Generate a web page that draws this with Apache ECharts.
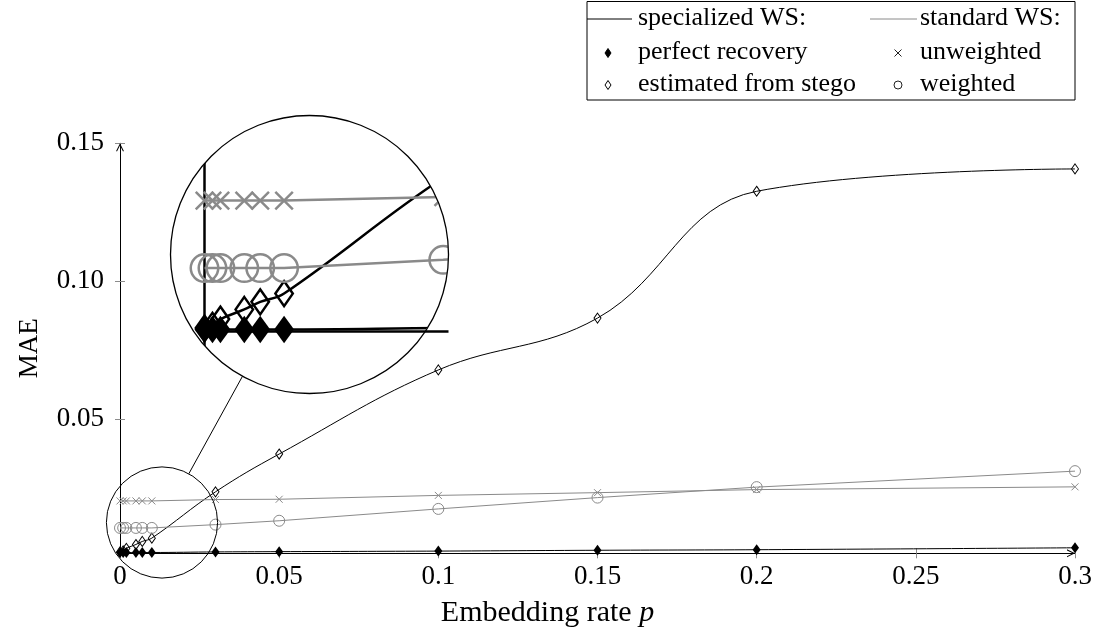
<!DOCTYPE html>
<html>
<head>
<meta charset="utf-8">
<title>MAE vs embedding rate</title>
<script src="https://cdn.jsdelivr.net/npm/echarts@6/dist/echarts.min.js"></script>
<style>
  html, body { margin: 0; padding: 0; background: #fff; }
  #chart { width: 1100px; height: 640px; }
</style>
</head>
<body>
<div id="chart"></div>
<script>
// Embedding rates p
const P = [0, 0.001, 0.002, 0.005, 0.007, 0.01, 0.03, 0.05, 0.1, 0.15, 0.2, 0.3];
// specialized WS
const PERFECT   = [0.0016, 0.0016, 0.0016, 0.0016, 0.0016, 0.0016, 0.0018, 0.0019, 0.0021, 0.0024, 0.0026, 0.0033];
const ESTIMATED = [0.0018, 0.0022, 0.0031, 0.0045, 0.0056, 0.0068, 0.0236, 0.0373, 0.0678, 0.0866, 0.1326, 0.1407];
// standard WS
const UNWEIGHTED = [0.0203, 0.0203, 0.0203, 0.0203, 0.0203, 0.0203, 0.0208, 0.0209, 0.0223, 0.0233, 0.0244, 0.0254];
const WEIGHTED   = [0.0105, 0.0105, 0.0105, 0.0105, 0.0105, 0.0105, 0.0117, 0.0131, 0.0174, 0.0215, 0.0253, 0.0311];
// axis ticks
const Y_TICKS = [0.05, 0.10, 0.15];
const X_INTERVAL = 0.05;

const X_MIN = 0, X_MAX = 0.3, Y_MIN = 0.0013, Y_MAX = 0.15;

const FONT = "'Liberation Serif', 'DejaVu Serif', serif";
const FS = 26;
const GRAY = '#8a8a8a';
const TICK = '#8c8c8c';
const CROSS = 'path://M0,0L10,10M10,0L0,10';
const ARROW = 'path://M5,0 L10,10 L8.6,10 L5,2.8 L1.4,10 L0,10 Z';

// plot area in pixels
const PLOT = { left: 120, right: 1075, top: 143.3, bottom: 553.3 };
const sx = (PLOT.right - PLOT.left) / (X_MAX - X_MIN);
const sy = (PLOT.bottom - PLOT.top) / (Y_MAX - Y_MIN);

// magnifier: small source circle near the origin, enlarged copy above
const SRC = { x: 162, y: 522.5, r: 55.6 };
const MAG = 2.5;
const DST = { x: 309.5, y: 254.5 };
const R = SRC.r * MAG;
const cxData = X_MIN + (SRC.x - PLOT.left) / sx;
const cyData = Y_MIN + (PLOT.bottom - SRC.y) / sy;
const hx = SRC.r / sx, hy = SRC.r / sy;
const IN_X_MIN = cxData - hx, IN_X_MAX = cxData + hx;
const IN_Y_MIN = cyData - hy, IN_Y_MAX = cyData + hy;

const zip = (xs, ys) => xs.map((x, i) => [x, ys[i]]);

function seriesSet(xi, yi, k, z) {
  const common = { type: 'line', xAxisIndex: xi, yAxisIndex: yi, z: z, silent: true,
                   showAllSymbol: true, clip: true, emphasis: { disabled: true } };
  return [
    Object.assign({}, common, {
      name: 'perfect recovery', data: zip(P, PERFECT), smooth: 0.4,
      symbol: 'diamond', symbolSize: [8 * k, 11 * k],
      itemStyle: { color: '#000', borderWidth: 0 },
      lineStyle: { color: '#000', width: 1 * k }
    }),
    Object.assign({}, common, {
      name: 'estimated from stego', data: zip(P, ESTIMATED), smooth: 0.4,
      symbol: 'diamond', symbolSize: [7 * k, 10 * k],
      itemStyle: { color: 'rgba(0,0,0,0)', borderColor: '#000', borderWidth: 1 * k },
      lineStyle: { color: '#000', width: 1 * k }
    }),
    Object.assign({}, common, {
      name: 'unweighted', data: zip(P, UNWEIGHTED),
      symbol: CROSS, symbolSize: 7 * k,
      itemStyle: { color: 'rgba(0,0,0,0)', borderColor: GRAY, borderWidth: 1 * k },
      lineStyle: { color: GRAY, width: 1 * k }
    }),
    Object.assign({}, common, {
      name: 'weighted', data: zip(P, WEIGHTED),
      symbol: 'circle', symbolSize: 11 * k,
      itemStyle: { color: 'rgba(0,0,0,0)', borderColor: GRAY, borderWidth: 1 * k },
      lineStyle: { color: GRAY, width: 1 * k }
    })
  ];
}

const mainSeries = seriesSet(0, 0, 1, 10);
const insetSeries = seriesSet(2, 2, MAG, 2);
// x axis line seen through the magnifier
insetSeries[0].markLine = {
  silent: true, symbol: ['none', 'none'], label: { show: false },
  lineStyle: { color: '#000', width: MAG, type: 'solid' },
  data: [[{ coord: [0, Y_MIN] }, { coord: [IN_X_MAX, Y_MIN] }]]
};

// white cover around the round magnifier: a square with a round hole,
// traced as one outline with a zero-width slit
const M = 40;
const qx0 = DST.x - R - M, qx1 = DST.x + R + M, qy0 = DST.y - R - M, qy1 = DST.y + R + M;
const maskPts = [[qx0, qy0], [qx1, qy0], [qx1, qy1], [qx0, qy1], [qx0, DST.y]];
const NSEG = 240;
for (let i = 0; i <= NSEG; i++) {
  const t = Math.PI - (2 * Math.PI * i) / NSEG;
  maskPts.push([DST.x + R * Math.cos(t), DST.y + R * Math.sin(t)]);
}
maskPts.push([qx0, DST.y]);

// connector between the two circles
const dl = Math.hypot(DST.x - SRC.x, DST.y - SRC.y);
const ux = (DST.x - SRC.x) / dl, uy = (DST.y - SRC.y) / dl;

// legend box
const LG = { x0: 587, x1: 1075, y0: 1.5, y1: 100, rows: [19, 53, 85], sym1: 608, txt1: 638, sym2: 898, txt2: 920 };
const txt = (s, x, y) => ({
  type: 'text', z: 30, silent: true,
  style: { text: s, x: x, y: y, fill: '#000', font: `${FS}px ${FONT}`,
           textVerticalAlign: 'middle', verticalAlign: 'middle', textAlign: 'left', align: 'left' }
});
const diamond = (cx, cy, w, h, filled) => ({
  type: 'polygon', z: 30, silent: true,
  shape: { points: [[cx, cy - h / 2], [cx + w / 2, cy], [cx, cy + h / 2], [cx - w / 2, cy]] },
  style: { fill: filled ? '#000' : 'none', stroke: '#000', lineWidth: 1 }
});
const seg = (x1, y1, x2, y2, color, w) => ({
  type: 'line', z: 30, silent: true,
  shape: { x1: x1, y1: y1, x2: x2, y2: y2 },
  style: { stroke: color, lineWidth: w }
});

const legendEls = [
  { type: 'rect', z: 29, silent: true,
    shape: { x: LG.x0, y: LG.y0, width: LG.x1 - LG.x0, height: LG.y1 - LG.y0 },
    style: { fill: '#fff', stroke: '#000', lineWidth: 1 } },
  seg(LG.x0, LG.rows[0], 632, LG.rows[0], '#000', 1),
  txt('specialized WS:', LG.txt1, LG.rows[0] - 1),
  seg(870, LG.rows[0], 917, LG.rows[0], GRAY, 1),
  txt('standard WS:', LG.txt2, LG.rows[0] - 1),
  diamond(LG.sym1, LG.rows[1], 6, 9, true),
  txt('perfect recovery', LG.txt1, LG.rows[1] - 1),
  seg(LG.sym2 - 3.5, LG.rows[1] - 3.5, LG.sym2 + 3.5, LG.rows[1] + 3.5, '#222', 1),
  seg(LG.sym2 - 3.5, LG.rows[1] + 3.5, LG.sym2 + 3.5, LG.rows[1] - 3.5, '#222', 1),
  txt('unweighted', LG.txt2, LG.rows[1] - 1),
  diamond(LG.sym1, LG.rows[2], 6, 9, false),
  txt('estimated from stego', LG.txt1, LG.rows[2] - 1),
  { type: 'circle', z: 30, silent: true, shape: { cx: LG.sym2, cy: LG.rows[2], r: 4 },
    style: { fill: 'none', stroke: '#222', lineWidth: 1 } },
  txt('weighted', LG.txt2, LG.rows[2] - 1)
];

const chart = echarts.init(document.getElementById('chart'), null, { renderer: 'canvas' });

const labelStyle = { fontFamily: FONT, fontSize: 27, color: '#000' };

chart.setOption({
  animation: false,
  backgroundColor: '#fff',
  grid: [
    { left: PLOT.left, top: PLOT.top, width: PLOT.right - PLOT.left, height: PLOT.bottom - PLOT.top,
      containLabel: false },
    { left: DST.x - R, top: DST.y - R, width: 2 * R, height: 2 * R,
      containLabel: false }
  ],
  xAxis: [
    { type: 'value', gridIndex: 0, min: X_MIN, max: X_MAX, interval: X_INTERVAL, position: 'bottom',
      name: 'Embedding rate {it|p}', nameLocation: 'middle', nameGap: 45,
      nameTextStyle: { fontFamily: FONT, fontSize: 30, color: '#000', padding: [0, 100, 0, 0],
        rich: { it: { fontFamily: FONT, fontSize: 30, fontStyle: 'italic', color: '#000' } } },
      axisLine: { show: true, onZero: false, lineStyle: { color: '#000', width: 1 },
                  symbol: ['none', ARROW], symbolSize: [8, 8], symbolOffset: [0, -4] },
      axisTick: { show: true, inside: false, length: 5, lineStyle: { color: TICK, width: 1 } },
      axisLabel: Object.assign({}, labelStyle, { margin: 10, showMinLabel: true, showMaxLabel: true,
                  formatter: v => String(+v.toFixed(3)) }),
      splitLine: { show: false } },
    { type: 'value', gridIndex: 0, min: X_MIN, max: X_MAX, interval: X_INTERVAL, position: 'bottom',
      axisLine: { show: false, onZero: false },
      axisTick: { show: true, inside: true, length: 5, lineStyle: { color: TICK, width: 1 } },
      axisLabel: { show: false }, splitLine: { show: false } },
    { type: 'value', gridIndex: 1, min: IN_X_MIN, max: IN_X_MAX, position: 'bottom',
      axisLine: { show: false }, axisTick: { show: false }, axisLabel: { show: false },
      splitLine: { show: false } }
  ],
  yAxis: [
    { type: 'value', gridIndex: 0, min: Y_MIN, max: Y_MAX, position: 'left',
      name: 'MAE', nameLocation: 'middle', nameGap: 77, nameTextStyle: labelStyle,
      axisLine: { show: true, onZero: false, lineStyle: { color: '#000', width: 1 },
                  symbol: ['none', ARROW], symbolSize: [8, 8], symbolOffset: [0, -4] },
      axisTick: { show: true, inside: false, length: 5, customValues: Y_TICKS,
                  lineStyle: { color: TICK, width: 1 } },
      axisLabel: Object.assign({}, labelStyle, { margin: 16, customValues: Y_TICKS,
                  formatter: v => v.toFixed(2) }),
      splitLine: { show: false } },
    { type: 'value', gridIndex: 0, min: Y_MIN, max: Y_MAX, position: 'left',
      axisLine: { show: false, onZero: false },
      axisTick: { show: true, inside: true, length: 5, customValues: Y_TICKS,
                  lineStyle: { color: TICK, width: 1 } },
      axisLabel: { show: false }, splitLine: { show: false } },
    { type: 'value', gridIndex: 1, min: IN_Y_MIN, max: IN_Y_MAX, position: 'left',
      axisLine: { show: true, onZero: true, lineStyle: { color: '#000', width: MAG } },
      axisTick: { show: false }, axisLabel: { show: false }, splitLine: { show: false } }
  ],
  series: mainSeries.concat(insetSeries),
  graphic: {
    elements: [
      { type: 'polygon', z: 5, silent: true, shape: { points: maskPts },
        style: { fill: '#fff', stroke: '#fff', lineWidth: 1 } },
      { type: 'circle', z: 20, silent: true, shape: { cx: DST.x, cy: DST.y, r: R },
        style: { fill: 'none', stroke: '#000', lineWidth: 1.3 } },
      { type: 'circle', z: 20, silent: true, shape: { cx: SRC.x, cy: SRC.y, r: SRC.r },
        style: { fill: 'none', stroke: '#000', lineWidth: 1 } },
      { type: 'line', z: 20, silent: true,
        shape: { x1: SRC.x + ux * SRC.r, y1: SRC.y + uy * SRC.r, x2: DST.x - ux * R, y2: DST.y - uy * R },
        style: { stroke: '#000', lineWidth: 1 } }
    ].concat(legendEls)
  }
});
</script>
</body>
</html>
